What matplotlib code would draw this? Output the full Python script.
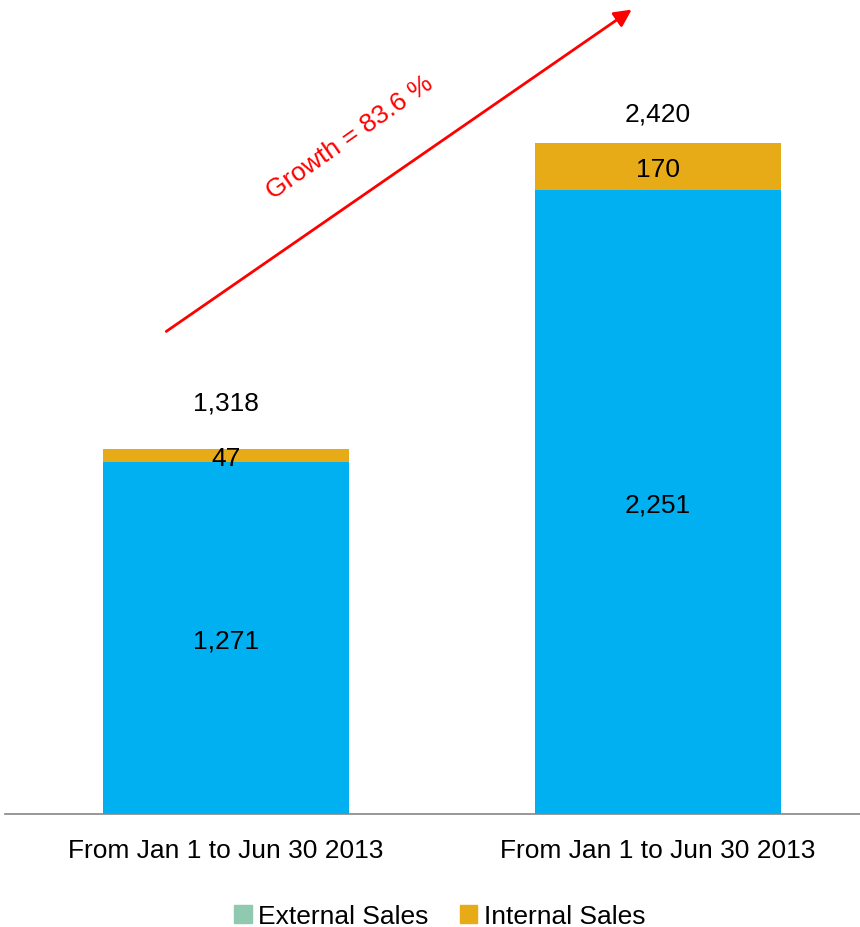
import numpy as np
import matplotlib.pyplot as plt
from matplotlib.patches import Patch

plt.rcParams['font.family'] = ['Liberation Sans', 'DejaVu Sans']

periods = ['From Jan 1 to Jun 30 2013', 'From Jan 1 to Jun 30 2013']
external = [1271, 2251]
internal = [47, 170]
totals = [1318, 2420]

growth = (totals[1] / totals[0] - 1) * 100
fs = 19

fig = plt.figure(figsize=(8.6, 9.28), dpi=100)
ax = fig.add_axes([0.006, 1 - 815 / 928, 0.994, 815 / 928])

x = np.arange(len(periods))
w = 0.569
ax.bar(x, external, w, color='#00B0F0', label='External Sales')
ax.bar(x, internal, w, bottom=external, color='#E6AB17', label='Internal Sales')

for i in x:
    ax.text(i, external[i] / 2, f'{external[i]:,}', ha='center', va='center_baseline', fontsize=fs)
    ax.text(i, external[i] + internal[i] / 2, f'{internal[i]:,}', ha='center', va='center_baseline', fontsize=fs)

# totals sit a little above each stack
ax.text(x[0], totals[0] + 175, f'{totals[0]:,}', ha='center', va='center_baseline', fontsize=fs)
ax.text(x[1], totals[1] + 115, f'{totals[1]:,}', ha='center', va='center_baseline', fontsize=fs)

ax.set_xlim(-0.5116, 1.4676)
ax.set_ylim(0, 2940)
ax.set_xticks(x)
ax.set_xticklabels(periods, fontsize=fs)
ax.tick_params(axis='x', length=0, pad=17)
ax.set_yticks([])
for s in ['top', 'right', 'left']:
    ax.spines[s].set_visible(False)
ax.spines['bottom'].set_color('#868686')
ax.spines['bottom'].set_linewidth(1.2)

# growth arrow
ax.annotate('', xy=(634 / 860, 1 - 9 / 928), xytext=(164 / 860, 1 - 334 / 928),
            xycoords='figure fraction', textcoords='figure fraction',
            arrowprops=dict(arrowstyle='-|>', color='#FF0000', lw=2, mutation_scale=26))
fig.text(350 / 860, 1 - 138 / 928, f'Growth = {growth:.1f} %', color='#FF0000',
         fontsize=fs, rotation=35, ha='center', va='center', rotation_mode='anchor')

handles = [Patch(color='#8FC9B0', label='External Sales'),
           Patch(color='#E6AB17', label='Internal Sales')]
fig.legend(handles=handles, loc='center', bbox_to_anchor=(440 / 860, 1 - 917 / 928),
           ncol=2, frameon=False, fontsize=fs, handlelength=0.65, handleheight=0.65,
           handletextpad=0.25, columnspacing=1.2)

plt.savefig('out.png', dpi=100)
plt.close()
